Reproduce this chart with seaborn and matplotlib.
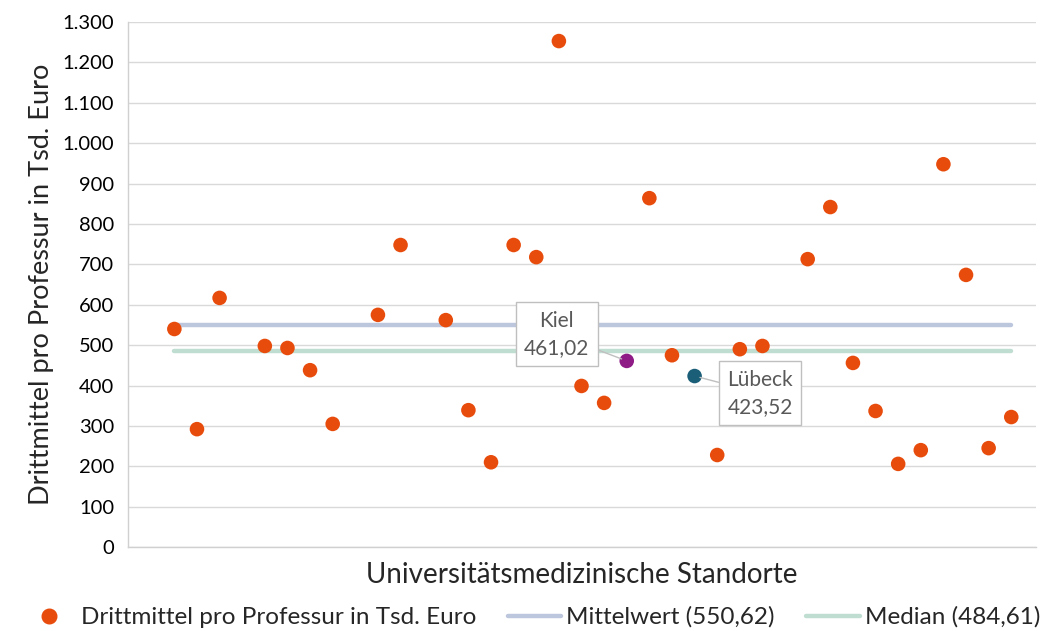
import numpy as np
import pandas as pd
import seaborn as sns
import matplotlib.pyplot as plt
from matplotlib.ticker import FuncFormatter, MultipleLocator
from matplotlib.lines import Line2D

# Drittmittel pro Professur (Tsd. Euro) je Standort, NaN = kein Wert
values = [540, 292, 617, np.nan, 498, 493, 438, 305, np.nan, 575,
          748, np.nan, 562, 339, 210, 748, 718, 1253, 399, 357,
          461.02, 864, 475, 423.52, 228, 490, 498, np.nan, 713, 842,
          456, 337, 206, 240, 948, 674, 245, 322]
highlight = {20: ('Kiel', '461,02', '#8E1B86'), 23: ('Lübeck', '423,52', '#1A5E78')}
mean_val = 550.62
median_val = 484.61

sns.set_theme(style='white')
plt.rcParams['font.family'] = ['Lato', 'DejaVu Sans']

df = pd.DataFrame({'pos': np.arange(len(values)), 'wert': values}).dropna()
df_main = df[~df['pos'].isin(highlight.keys())]

fig = plt.figure(figsize=(10.56, 6.31), dpi=100)
ax = fig.add_axes([0.1212, 0.133, 0.86, 0.832])

orange = '#E84C0C'
ax.hlines(mean_val, 0, len(values) - 1, color='#BCC6DC', lw=3.2, capstyle='round', zorder=2)
ax.hlines(median_val, 0, len(values) - 1, color='#BFDDD1', lw=3.2, capstyle='round', zorder=2)

sns.scatterplot(data=df_main, x='pos', y='wert', color=orange, s=110, edgecolor='none', ax=ax, zorder=3)
for pos, (name, lab, col) in highlight.items():
    ax.scatter(pos, values[pos], color=col, s=110, edgecolor='none', zorder=4)

# data labels
ax.annotate('Kiel\n461,02', xy=(20, values[20]), xytext=(16.9, 527), ha='center', va='center',
            fontsize=15, color='#595959', linespacing=1.45,
            bbox=dict(boxstyle='square,pad=0.4', fc='white', ec='#BFBFBF', lw=1),
            arrowprops=dict(arrowstyle='-', color='#BFBFBF', lw=1, shrinkA=0, shrinkB=4), zorder=5)
ax.annotate('Lübeck\n423,52', xy=(23, values[23]), xytext=(25.9, 381), ha='center', va='center',
            fontsize=15, color='#595959', linespacing=1.45,
            bbox=dict(boxstyle='square,pad=0.4', fc='white', ec='#BFBFBF', lw=1),
            arrowprops=dict(arrowstyle='-', color='#BFBFBF', lw=1, shrinkA=0, shrinkB=4), zorder=5)

ax.set_xlim(-2.05, 38.1)
ax.set_ylim(0, 1300)
ax.yaxis.set_major_locator(MultipleLocator(100))
ax.yaxis.set_major_formatter(FuncFormatter(lambda v, p: f'{int(v):,}'.replace(',', '.')))
ax.set_xticks([])
ax.grid(axis='y', color='#D9D9D9', lw=1)
ax.set_axisbelow(True)
for s in ['top', 'right']:
    ax.spines[s].set_visible(False)
for s in ['left', 'bottom']:
    ax.spines[s].set_color('#D0D0D0')
    ax.spines[s].set_linewidth(1)
ax.tick_params(axis='y', labelsize=14.5, colors='black', length=0, pad=10)

ax.set_xlabel('Universitätsmedizinische Standorte', fontsize=20, labelpad=11)
ax.set_ylabel('Drittmittel pro Professur in Tsd. Euro', fontsize=19.5, labelpad=6)

handles = [
    Line2D([], [], marker='o', ls='none', color=orange, markersize=10.5),
    Line2D([], [], color='#BCC6DC', lw=3.2, solid_capstyle='round'),
    Line2D([], [], color='#BFDDD1', lw=3.2, solid_capstyle='round'),
]
labels = ['Drittmittel pro Professur in Tsd. Euro', 'Mittelwert (550,62)', 'Median (484,61)']
fig.legend(handles, labels, loc='lower center', bbox_to_anchor=(0.503, -0.03), ncol=3, frameon=False,
           fontsize=17.5, handlelength=2.2, columnspacing=1.3, handletextpad=0.2)

fig.savefig('out.png', dpi=100)
